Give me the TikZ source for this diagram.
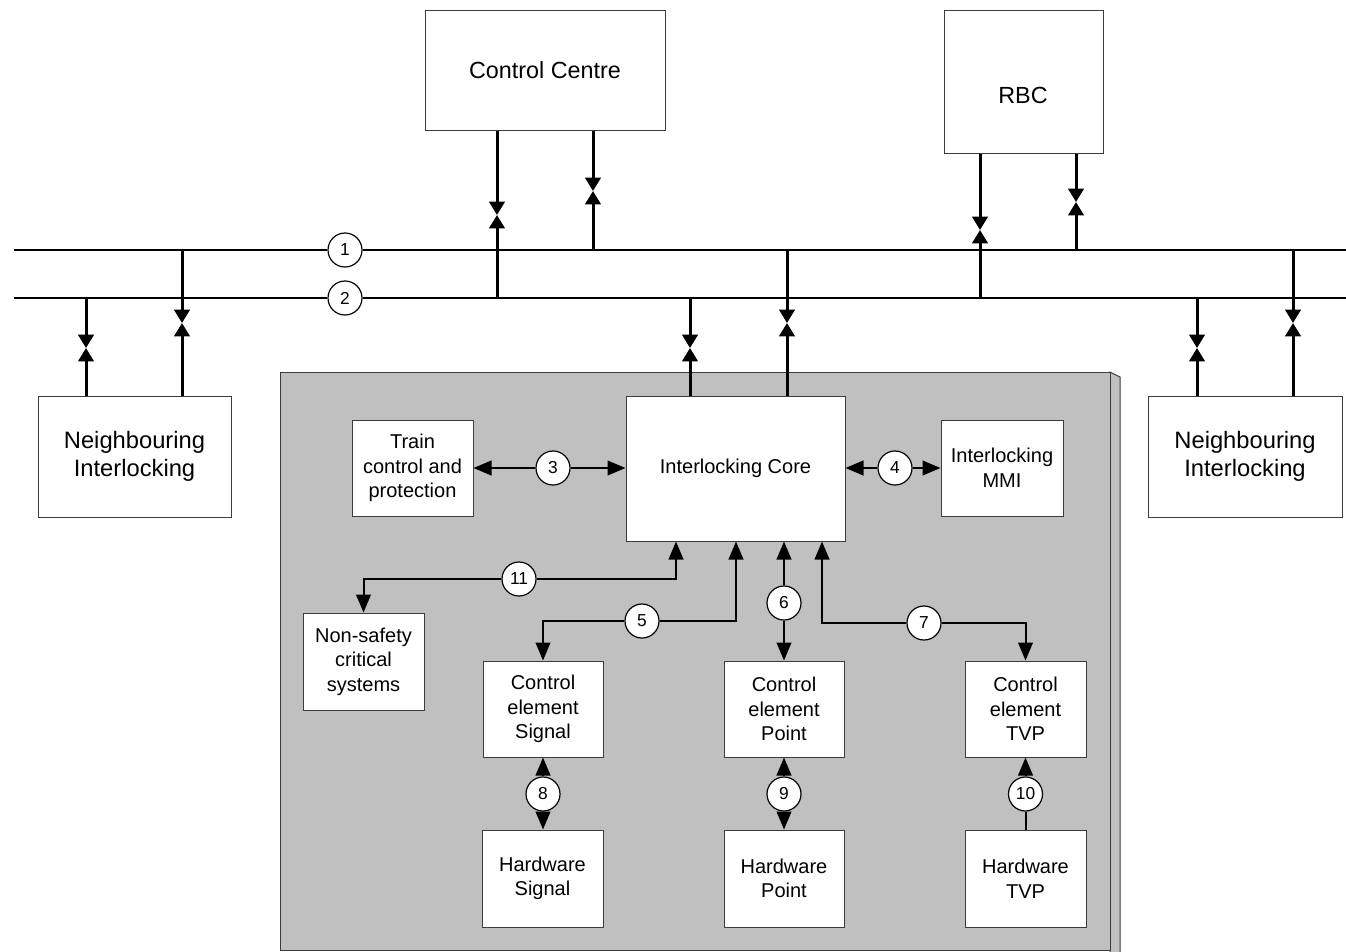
\documentclass[tikz,border=0pt]{standalone}
\usepackage{fontspec}
\setmainfont{Liberation Sans}
\usetikzlibrary{arrows.meta}
\definecolor{panelgrey}{HTML}{C0C0C0}
\definecolor{edgegrey}{HTML}{3C3C3C}

\begin{document}
\begin{tikzpicture}[x=0.75pt,y=-0.75pt,
  blk/.style={draw=edgegrey, line width=0.75pt, fill=white, inner sep=0pt, align=center,
              font=\fontsize{15}{18.4}\selectfont},
  bigblk/.style={blk, font=\fontsize{17.8}{21}\selectfont},
  num/.style={circle, draw=black, line width=0.9pt, fill=white, minimum size=25.5pt,
              inner sep=0pt, font=\fontsize{13}{15}\selectfont},
  bus/.style={line width=1.5pt},
  tap/.style={line width=2.25pt, -{Triangle[length=10pt,width=11.5pt]}},
  link/.style={line width=1.5pt, -{Triangle[length=13.5pt,width=11pt]}},
  wire/.style={line width=1.5pt}
]
\useasboundingbox (0,0) rectangle (1346,951);

% interlocking housing (front face and side face)
\filldraw[fill=panelgrey, draw=edgegrey, line width=0.75pt]
  (1110,372) -- (1120,377) -- (1120,953) -- (1110,953) -- cycle;
\filldraw[fill=panelgrey, draw=edgegrey, line width=0.75pt]
  (280,372) rectangle (1110,950);

% bus end points and circled bus labels
\coordinate (b1L) at (14,250);
\coordinate (b1R) at (1346,250);
\coordinate (b2L) at (14,298);
\coordinate (b2R) at (1346,298);
\node[num] (c1) at (345,250) {1};
\node[num] (c2) at (345,298) {2};
\draw[bus] (b1L) -- (c1) (c1) -- (b1R);
\draw[bus] (b2L) -- (c2) (c2) -- (b2R);

% outer systems
\node[bigblk, font=\fontsize{17.5}{21}\selectfont, minimum width=180pt, minimum height=90pt]
  (cc) at (545,70) {Control Centre};
\node[bigblk, minimum width=119.25pt, minimum height=107.25pt] (rbc) at (1023.5,81.5) {};
\node[font=\fontsize{17.5}{21}\selectfont] (rbclabel) at (1023,95) {RBC};
\node[bigblk, minimum width=144.75pt, minimum height=90.75pt]
  (nil) at (134.5,456.5) {Neighbouring\\Interlocking};
\node[bigblk, minimum width=145.5pt, minimum height=90.75pt]
  (nir) at (1245,456.5) {Neighbouring\\Interlocking};

% blocks inside the interlocking
\node[blk, minimum width=164.25pt, minimum height=108.75pt] (core) at (735.5,468.5) {Interlocking Core};
\node[blk, minimum width=90.75pt, minimum height=72pt] (tcp) at (412.5,468) {Train\\control and\\protection};
\node[blk, minimum width=91.5pt, minimum height=72pt] (mmi) at (1002,468) {Interlocking\\MMI};
\node[blk, minimum width=90.75pt, minimum height=72.75pt] (nsc) at (363.5,661.5) {Non-safety\\critical\\systems};
\node[blk, minimum width=90pt, minimum height=72pt] (ces) at (543,709) {Control\\element\\Signal};
\node[blk, minimum width=90pt, minimum height=72pt] (cep) at (784,709) {Control\\element\\Point};
\node[blk, minimum width=90.75pt, minimum height=72pt] (cet) at (1025.5,709) {Control\\element\\TVP};
\node[blk, minimum width=90.75pt, minimum height=72.75pt] (hws) at (542.5,878.5) {Hardware\\Signal};
\node[blk, minimum width=90pt, minimum height=72.75pt] (hwp) at (784,878.5) {Hardware\\Point};
\node[blk, minimum width=90.75pt, minimum height=72.75pt] (hwt) at (1025.5,878.5) {Hardware\\TVP};

% bus taps: two tips meeting at a point on each tap
\coordinate (t1) at (497,215);
\coordinate (t2) at (593,191);
\coordinate (t3) at (980,230);
\coordinate (t4) at (1076,202);
\coordinate (t5) at (86,348);
\coordinate (t6) at (182,323);
\coordinate (t7) at (690,348);
\coordinate (t8) at (787,323);
\coordinate (t9) at (1197,348);
\coordinate (t10) at (1293,323);

\draw[tap] (cc.south -| t1) -- (t1);  \draw[tap] (t1 |- b2L) -- (t1);
\draw[tap] (cc.south -| t2) -- (t2);  \draw[tap] (t2 |- b1L) -- (t2);
\draw[tap] (rbc.south -| t3) -- (t3); \draw[tap] (t3 |- b2L) -- (t3);
\draw[tap] (rbc.south -| t4) -- (t4); \draw[tap] (t4 |- b1L) -- (t4);
\draw[tap] (t5 |- b2L) -- (t5);  \draw[tap] (nil.north -| t5) -- (t5);
\draw[tap] (t6 |- b1L) -- (t6);  \draw[tap] (nil.north -| t6) -- (t6);
\draw[tap] (t7 |- b2L) -- (t7);  \draw[tap] (core.north -| t7) -- (t7);
\draw[tap] (t8 |- b1L) -- (t8);  \draw[tap] (core.north -| t8) -- (t8);
\draw[tap] (t9 |- b2L) -- (t9);  \draw[tap] (nir.north -| t9) -- (t9);
\draw[tap] (t10 |- b1L) -- (t10); \draw[tap] (nir.north -| t10) -- (t10);

% numbered interfaces of the interlocking
\node[num] (c3) at (553,468) {3};
\node[num] (c4) at (895,468) {4};
\node[num] (c5) at (642,621) {5};
\node[num] (c6) at (784,603) {6};
\node[num] (c7) at (924,623) {7};
\node[num] (c8) at (543,794) {8};
\node[num] (c9) at (784,794) {9};
\node[num] (c10) at (1025.5,794) {10};
\node[num] (c11) at (519,579) {11};

\coordinate (x11) at (676,0);
\coordinate (x5) at (736,0);
\coordinate (x7) at (822,0);

\draw[link] (c3) -- (tcp.east |- c3);
\draw[link] (c3) -- (core.west |- c3);
\draw[link] (c4) -- (core.east |- c4);
\draw[link] (c4) -- (mmi.west |- c4);
\draw[link] (c11) -| (nsc.north);
\draw[link] (c11) -| (core.south -| x11);
\draw[link] (c5) -| (ces.north);
\draw[link] (c5) -| (core.south -| x5);
\draw[link] (c6) -- (core.south -| c6);
\draw[link] (c6) -- (cep.north);
\draw[link] (c7) -| (core.south -| x7);
\draw[link] (c7) -| (cet.north);
\draw[link] (c8) -- (ces.south);
\draw[link] (c8) -- (hws.north -| c8);
\draw[link] (c9) -- (cep.south);
\draw[link] (c9) -- (hwp.north);
\draw[link] (c10) -- (cet.south);
\draw[wire] (c10) -- (hwt.north);
\end{tikzpicture}
\end{document}
